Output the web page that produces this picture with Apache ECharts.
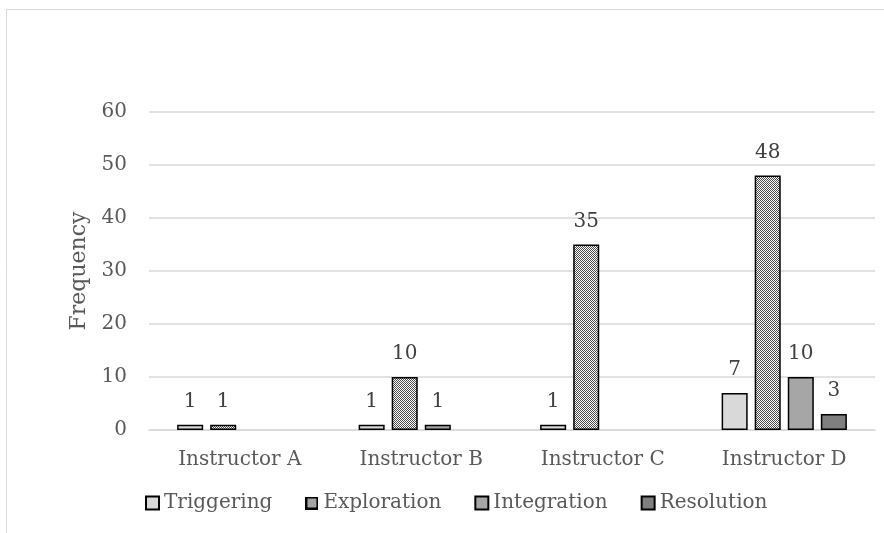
<!DOCTYPE html>
<html>
<head>
<meta charset="utf-8">
<script src="https://cdn.jsdelivr.net/npm/echarts@6/dist/echarts.min.js"></script>
<style>
html, body { margin: 0; padding: 0; background: #fff; }
#chart { width: 884px; height: 533px; }
</style>
</head>
<body>
<div id="chart"></div>
<script>
var categories = ['Instructor A', 'Instructor B', 'Instructor C', 'Instructor D'];
var triggering = [1, 1, 1, 7];
var exploration = [1, 10, 35, 48];
var integration = [null, 1, null, 10];
var resolution = [null, null, null, 3];
var yTicks = [0, 10, 20, 30, 40, 50, 60];

// checker pattern for Exploration
function checker(size, border) {
    var c = document.createElement('canvas');
    c.width = size; c.height = size;
    var ctx = c.getContext('2d');
    ctx.fillStyle = '#ffffff';
    ctx.fillRect(0, 0, size, size);
    ctx.fillStyle = '#4a4a4a';
    for (var y = 0; y < size; y++) {
        for (var x = 0; x < size; x++) {
            if ((x + y) % 2 === 0) ctx.fillRect(x, y, 1, 1);
        }
    }
    if (border) {
        ctx.strokeStyle = '#000';
        ctx.lineWidth = 2;
        ctx.strokeRect(1, 1, size - 2, size - 2);
    }
    return c;
}
var pat = { image: checker(4, false), repeat: 'repeat' };
var legendIcon = 'image://' + checker(13, true).toDataURL();

var font = 'DejaVu Serif';
function bar(name, data, color) {
    return {
        name: name,
        type: 'bar',
        data: data,
        barGap: '27%',
        barCategoryGap: '31%',
        itemStyle: { color: color, borderColor: '#000', borderWidth: 1.5 },
        label: {
            show: true,
            position: 'top',
            distance: 13,
            color: '#404040',
            fontFamily: font,
            fontSize: 20
        }
    };
}

var option = {
    animation: false,
    backgroundColor: '#fff',
    graphic: [{
        type: 'rect',
        shape: { x: 6.5, y: 9.5, width: 900, height: 600 },
        style: { fill: 'none', stroke: '#d9d9d9', lineWidth: 1 },
        silent: true
    }],
    grid: { left: 149, right: 9, top: 112, bottom: 103 },
    legend: {
        top: 488,
        left: 140,
        itemWidth: 13,
        itemHeight: 13,
        itemGap: 33,
        icon: 'rect',
        textStyle: { color: '#595959', fontFamily: font, fontSize: 20 },
        data: [
            'Triggering',
            { name: 'Exploration', icon: legendIcon },
            'Integration',
            'Resolution'
        ]
    },
    xAxis: {
        type: 'category',
        data: categories,
        axisLine: { lineStyle: { color: '#d9d9d9', width: 1.5 } },
        axisTick: { show: false },
        axisLabel: { color: '#595959', fontFamily: font, fontSize: 20, margin: 20 }
    },
    yAxis: {
        type: 'value',
        min: yTicks[0],
        max: yTicks[yTicks.length - 1],
        interval: 10,
        name: 'Frequency',
        nameLocation: 'middle',
        nameGap: 58,
        nameTextStyle: { color: '#595959', fontFamily: font, fontSize: 22 },
        axisLine: { show: false },
        axisTick: { show: false },
        axisLabel: { color: '#595959', fontFamily: font, fontSize: 20, margin: 22 },
        splitLine: { lineStyle: { color: '#d9d9d9', width: 1.5 } }
    },
    series: [
        bar('Triggering', triggering, '#d9d9d9'),
        bar('Exploration', exploration, pat),
        bar('Integration', integration, '#a6a6a6'),
        bar('Resolution', resolution, '#7f7f7f')
    ]
};
var myChart = echarts.init(document.getElementById('chart'));
myChart.setOption(option, true);
</script>
</body>
</html>
